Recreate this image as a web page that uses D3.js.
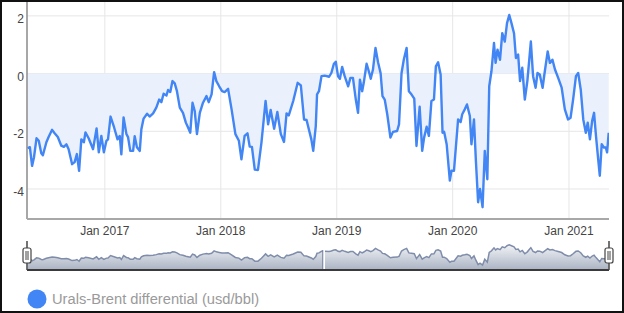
<!DOCTYPE html>
<html>
<head>
<meta charset="utf-8">
<script src="https://cdn.jsdelivr.net/npm/d3@7"></script>
<style>
body { margin: 0; background: #fff; }
svg { display: block; font-family: "Liberation Sans", Arial, sans-serif; }
</style>
</head>
<body>
<svg id="chart" width="624" height="313"></svg>
<script>
// Urals-Brent differential, usd/bbl
const dates = [
  "2016-05-03","2016-05-10","2016-05-17","2016-05-23","2016-05-31","2016-06-07","2016-06-15","2016-06-20","2016-07-01","2016-07-08",
  "2016-07-19","2016-07-27","2016-08-06","2016-08-17","2016-08-25","2016-09-02","2016-09-09","2016-09-20","2016-09-28","2016-10-05",
  "2016-10-12","2016-10-19","2016-10-27","2016-11-01","2016-11-11","2016-11-25","2016-12-06","2016-12-13","2016-12-21","2016-12-29",
  "2017-01-06","2017-01-11","2017-01-19","2017-01-30","2017-02-10","2017-02-17","2017-02-22","2017-03-01","2017-03-10","2017-03-15",
  "2017-03-22","2017-03-31","2017-04-05","2017-04-12","2017-04-21","2017-04-26","2017-05-03","2017-05-14","2017-05-22","2017-06-02",
  "2017-06-12","2017-06-21","2017-06-28","2017-07-05","2017-07-14","2017-07-19","2017-07-26","2017-08-02","2017-08-09","2017-08-16",
  "2017-08-25","2017-09-04","2017-09-13","2017-09-20","2017-09-27","2017-10-04","2017-10-11","2017-10-18","2017-10-27","2017-11-06",
  "2017-11-17","2017-11-24","2017-12-03","2017-12-11","2017-12-18","2017-12-27",
  "2018-01-05","2018-01-13","2018-01-24","2018-02-04","2018-02-16","2018-02-27","2018-03-07","2018-03-17","2018-03-26","2018-04-02",
  "2018-04-09","2018-04-18","2018-04-28","2018-05-09","2018-05-22","2018-05-30","2018-06-07","2018-06-18","2018-06-28","2018-07-09",
  "2018-07-19","2018-07-27","2018-08-03","2018-08-17","2018-08-31","2018-09-10","2018-09-20","2018-09-28","2018-10-13","2018-10-19",
  "2018-10-27","2018-10-31","2018-11-06","2018-11-14","2018-11-24","2018-12-08","2018-12-15","2018-12-23","2018-12-29",
  "2019-01-05","2019-01-11","2019-01-18","2019-01-26","2019-02-06","2019-02-13","2019-02-21","2019-03-02","2019-03-09","2019-03-15",
  "2019-03-22","2019-03-27","2019-04-05","2019-04-12","2019-04-18","2019-04-25","2019-05-03","2019-05-11","2019-05-19","2019-05-25",
  "2019-06-01","2019-06-09","2019-06-19","2019-06-27","2019-07-10","2019-07-16","2019-07-24","2019-07-31","2019-08-09","2019-08-16",
  "2019-08-24","2019-09-02","2019-09-09","2019-09-19","2019-09-27","2019-10-03","2019-10-11","2019-10-18","2019-10-26","2019-11-03",
  "2019-11-09","2019-11-16","2019-11-24","2019-11-30","2019-12-05","2019-12-13","2019-12-23","2019-12-28",
  "2020-01-05","2020-01-18","2020-01-26","2020-01-31","2020-02-08","2020-02-15","2020-02-24","2020-02-29","2020-03-08","2020-03-14",
  "2020-03-21","2020-03-27","2020-04-04","2020-04-11","2020-04-19","2020-04-25","2020-05-02","2020-05-10","2020-05-15","2020-05-21",
  "2020-05-29","2020-06-05","2020-06-13","2020-06-20","2020-06-27","2020-07-04","2020-07-12","2020-07-18","2020-07-25","2020-07-31",
  "2020-08-07","2020-08-15","2020-08-23","2020-08-29","2020-09-03","2020-09-10","2020-09-18","2020-09-24","2020-10-01","2020-10-10",
  "2020-10-17","2020-10-26","2020-11-02","2020-11-10","2020-11-18","2020-11-28","2020-12-09","2020-12-19","2020-12-29",
  "2021-01-06","2021-01-14","2021-01-23","2021-01-30","2021-02-07","2021-02-15","2021-02-23","2021-03-01","2021-03-08","2021-03-15",
  "2021-03-21","2021-03-27","2021-04-03","2021-04-08","2021-04-14","2021-04-21","2021-04-27","2021-05-01","2021-05-06"
]
const values = [
  -2.59,-2.55,-3.2,-2.9,-2.24,-2.33,-2.76,-2.83,-2.38,-2.2,
  -1.95,-2.07,-2.2,-2.5,-2.54,-2.45,-2.62,-3.14,-3.07,-2.79,
  -3.37,-2.28,-2.38,-2.04,-2.24,-2.62,-1.9,-2.73,-2.16,-2.73,
  -2.33,-2.28,-1.49,-1.86,-2.28,-2.16,-2.8,-1.52,-2.1,-2.2,
  -2.68,-2.68,-2.17,-2.55,-2.68,-1.93,-1.56,-1.39,-1.49,-1.38,
  -1.18,-0.9,-0.99,-0.7,-0.76,-0.57,-0.64,-0.26,-0.34,-0.61,
  -1.18,-1.36,-1.7,-1.87,-2.05,-1.01,-1.3,-2.1,-1.36,-1.01,
  -0.78,-0.99,-0.72,0.05,-0.26,-0.44,
  -0.61,-0.64,-0.53,-1.24,-2.1,-2.33,-2.97,-2.16,-2.07,-2.53,
  -2.54,-3.33,-3.34,-2.39,-0.95,-1.76,-1.26,-1.91,-1.33,-2.1,
  -2.37,-1.38,-1.45,-0.95,-0.32,-0.41,-1.59,-1.61,-2.28,-2.68,
  -1.82,-0.72,-0.61,-0.09,-0.07,-0.11,0.02,0.34,0.41,
  -0.09,-0.18,0.23,-0.09,-0.44,-0.15,-0.15,-0.9,-1.36,-0.21,
  -0.61,-0.32,0.34,0.08,-0.18,0.14,0.89,0.39,0.02,-0.78,
  -0.9,-1.41,-2.22,-2.02,-1.99,-1.76,0.02,0.48,0.89,-0.61,
  -0.72,-0.87,-2.51,-1.15,-2.68,-2.22,-1.84,-2.16,-0.95,-0.9,
  0.25,0.39,-0.03,-2.05,-2.02,-2.45,-3.71,-3.37,
  -3.37,-1.59,-1.68,-1.41,-1.24,-1.07,-1.47,-2.45,-1.59,-3.02,
  -4.46,-4.0,-4.63,-2.68,-3.66,-0.44,0.08,1.06,0.37,0.83,
  0.48,1.4,1.11,1.75,2.03,1.75,1.4,0.54,0.66,-0.26,
  0.2,-0.9,-0.26,0.48,1.11,-0.09,-0.49,0.02,-0.03,-0.49,
  0.08,0.77,0.37,0.48,0.14,-0.15,-0.49,-1.24,-1.59,
  -1.53,-0.9,-0.09,0.02,-0.55,-1.59,-2.05,-1.7,-2.28,-1.64,
  -1.36,-2.16,-2.97,-3.54,-2.45,-2.56,-2.56,-2.73,-2.05
]
const yTicks = [2, 0, -2, -4]
const xTickDates = ["2017-01-01", "2018-01-01", "2019-01-01", "2020-01-01", "2021-01-01"]
const xRange = ["2016-05-01", "2021-05-07"]
const navGap = ["2018-11-18", "2018-11-25"]
const seriesName = "Urals-Brent differential (usd/bbl)"

const lineColor = "#4285f4"
const fillColor = "#eaf1fd"
const gridColor = "#e6e6e6"

const parse = d3.timeParse("%Y-%m-%d")
const data = dates.map((d, i) => ({date: parse(d), value: values[i]}))

const svg = d3.select("#chart")
const W = 624, H = 313
const plot = {left: 27, right: 609, top: 0, bottom: 219}
const nav = {top: 241, bottom: 270}

const x = d3.scaleTime()
  .domain(xRange.map(parse))
  .range([plot.left, plot.right])

const y = d3.scaleLinear()
  .domain([-5.04, 2.55])
  .range([plot.bottom, plot.top])

svg.append("clipPath").attr("id", "plot-clip")
  .append("rect")
  .attr("x", plot.left).attr("y", plot.top)
  .attr("width", plot.right - plot.left).attr("height", plot.bottom - plot.top)

// grid
svg.append("g").selectAll("line").data(yTicks).enter().append("line")
  .attr("x1", plot.left).attr("x2", plot.right)
  .attr("y1", d => y(d)).attr("y2", d => y(d))
  .style("stroke", gridColor).style("stroke-width", 1)

svg.append("g").selectAll("line").data(xTickDates).enter().append("line")
  .attr("x1", d => x(parse(d))).attr("x2", d => x(parse(d)))
  .attr("y1", plot.top).attr("y2", plot.bottom)
  .style("stroke", gridColor).style("stroke-width", 1)

// area to zero + line
const main = svg.append("g").attr("clip-path", "url(#plot-clip)")

main.append("path").datum(data)
  .attr("d", d3.area().x(d => x(d.date)).y0(y(0)).y1(d => y(d.value)))
  .style("fill", fillColor)

main.append("path").datum(data)
  .attr("d", d3.line().x(d => x(d.date)).y(d => y(d.value)))
  .style("fill", "none")
  .style("stroke", lineColor)
  .style("stroke-width", 2.4)
  .style("stroke-linejoin", "round")

// axes
svg.append("line")
  .attr("x1", plot.left).attr("x2", plot.left)
  .attr("y1", plot.top).attr("y2", plot.bottom)
  .style("stroke", "#8a8a8a").style("stroke-width", 1.5)

svg.append("line")
  .attr("x1", plot.left).attr("x2", plot.right)
  .attr("y1", plot.bottom).attr("y2", plot.bottom)
  .style("stroke", "#a8a8a8").style("stroke-width", 2)

svg.append("g").selectAll("text").data(yTicks).enter().append("text")
  .attr("x", plot.left - 3)
  .attr("y", d => y(d) + 7)
  .attr("text-anchor", "end")
  .style("font-size", "12px")
  .style("fill", "#444")
  .text(d => d3.format("d")(d).replace("−", "-"))

const fmt = d3.timeFormat("%b %Y")
svg.append("g").selectAll("text").data(xTickDates).enter().append("text")
  .attr("x", d => x(parse(d)))
  .attr("y", 235)
  .attr("text-anchor", "middle")
  .style("font-size", "12px")
  .style("fill", "#444")
  .text(d => fmt(parse(d)))

// navigator
const yNav = d3.scaleLinear()
  .domain([-6.25, 2])
  .range([nav.bottom, 245])

const grad = svg.append("defs").append("linearGradient")
  .attr("id", "nav-grad").attr("x1", 0).attr("x2", 0).attr("y1", 0).attr("y2", 1)
grad.append("stop").attr("offset", "0%").attr("stop-color", "#f1f3f6")
grad.append("stop").attr("offset", "100%").attr("stop-color", "#aab3c3")

svg.append("path").datum(data)
  .attr("d", d3.area().x(d => x(d.date)).y0(nav.bottom).y1(d => yNav(d.value)))
  .style("fill", "url(#nav-grad)")

svg.append("path").datum(data)
  .attr("d", d3.line().x(d => x(d.date)).y(d => yNav(d.value)))
  .style("fill", "none")
  .style("stroke", "#7f8daa")
  .style("stroke-width", 1.5)

svg.append("rect")
  .attr("x", x(parse(navGap[0])))
  .attr("y", 248)
  .attr("width", x(parse(navGap[1])) - x(parse(navGap[0])))
  .attr("height", nav.bottom - 248)
  .style("fill", "#fff")

svg.append("line")
  .attr("x1", x(parse(navGap[0]))).attr("x2", x(parse(navGap[0])))
  .attr("y1", 250).attr("y2", nav.bottom)
  .style("stroke", "#6f7d98").style("stroke-width", 1)

svg.append("line")
  .attr("x1", plot.left).attr("x2", plot.right)
  .attr("y1", nav.bottom).attr("y2", nav.bottom)
  .style("stroke", "#3a3a3a").style("stroke-width", 2)

const handles = svg.append("g").selectAll("g").data(xRange).enter().append("g")
  .attr("transform", d => "translate(" + x(parse(d)) + ",0)")

handles.append("line")
  .attr("y1", nav.top).attr("y2", nav.bottom)
  .style("stroke", "#444").style("stroke-width", 1.5)
handles.append("rect")
  .attr("x", -4).attr("y", 248).attr("width", 8).attr("height", 15).attr("rx", 2)
  .style("fill", "#fff").style("stroke", "#444").style("stroke-width", 1.2)
handles.selectAll(".grip").data([-1, 1]).enter().append("line")
  .attr("x1", d => d).attr("x2", d => d)
  .attr("y1", 251).attr("y2", 260)
  .style("stroke", "#444").style("stroke-width", 1)

// legend
svg.append("circle")
  .attr("cx", 37).attr("cy", 299).attr("r", 9.5)
  .style("fill", lineColor)

svg.append("text")
  .attr("x", 52).attr("y", 304)
  .style("font-size", "14.7px")
  .style("fill", "#9a9a9a")
  .text(seriesName)

// frame
svg.append("rect")
  .attr("x", 1).attr("y", 1).attr("width", W - 2).attr("height", H - 2)
  .style("fill", "none").style("stroke", "#111").style("stroke-width", 2)
</script>
</body>
</html>
